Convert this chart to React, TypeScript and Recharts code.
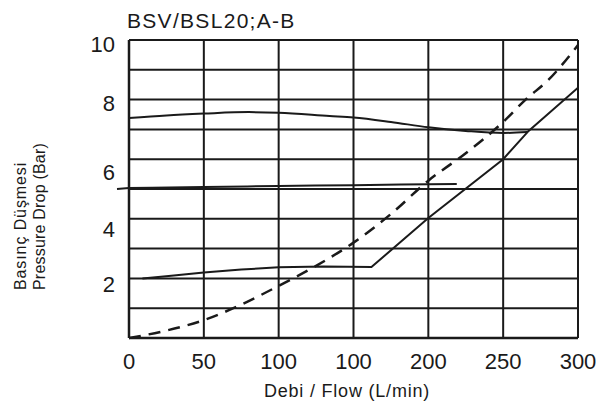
import { LineChart, Line, XAxis, YAxis, CartesianGrid, ReferenceLine } from 'recharts';

// flow (L/min) and pressure drop (bar)
const upperFlow = [0, 25, 50, 80, 100, 134, 150, 175, 200, 225, 250, 266];
const upperDrop = [7.38, 7.47, 7.53, 7.58, 7.56, 7.45, 7.4, 7.25, 7.07, 6.95, 6.88, 6.91];

const middleFlow = [0, 50, 100, 150, 219];
const middleDrop = [5.03, 5.07, 5.1, 5.13, 5.17];
const middleStub = [{ x: -8, y: 5.0 }, { x: 0, y: 5.03 }];

const lowerFlow = [9, 30, 50, 75, 100, 130, 162, 200, 250, 267, 300];
const lowerDrop = [2.0, 2.1, 2.2, 2.3, 2.37, 2.4, 2.38, 4.03, 6.0, 6.95, 8.4];

const dashedFlow = [0, 25, 50, 75, 100, 125, 150, 175, 200, 225, 250, 265, 280, 300];
const dashedDrop = [0, 0.25, 0.6, 1.12, 1.75, 2.42, 3.2, 4.16, 5.28, 6.2, 7.25, 8.0, 8.65, 9.83];

const xTicks = [0, 50, 100, 150, 200, 250, 300];
const xTickLabels = ['0', '50', '100', '100', '200', '250', '300'];
const yTicks = [0, 1, 2, 3, 4, 5, 6, 7, 8, 9, 10];
const yTickLabels = ['', '', '2', '', '4', '', '6', '', '8', '', '10'];

const zip = (xs: number[], ys: number[]) => xs.map((x, i) => ({ x, y: ys[i] }));

const upper = zip(upperFlow, upperDrop);
const middle = zip(middleFlow, middleDrop);
const lower = zip(lowerFlow, lowerDrop);
const dashed = zip(dashedFlow, dashedDrop);

const ink = '#1a1a1a';
const font = '"Liberation Sans", Arial, sans-serif';

// the printed labels sit a little below their grid lines
const yNudge: Record<number, number> = { 10: 4, 8: 4, 6: 13, 4: 10, 2: 6 };

function YTick(props: any) {
  const { x, y, payload } = props;
  const label = yTickLabels[yTicks.indexOf(payload.value)];
  if (!label) return null;
  return (
    <text x={x} y={y + (yNudge[payload.value] || 0)} dy="0.355em" textAnchor="end"
      fontSize={22} fontFamily={font} fill={ink}>
      {label}
    </text>
  );
}

function XTick(props: any) {
  const { x, y, payload } = props;
  return (
    <text x={x} y={y} dy="0.71em" textAnchor="middle" fontSize={22} fontFamily={font} fill={ink}>
      {xTickLabels[xTicks.indexOf(payload.value)]}
    </text>
  );
}

export default function App() {
  return (
    <div style={{ position: 'absolute', left: 0, top: 0, width: 607, height: 410, background: '#fff' }}>
      <LineChart width={607} height={410} data={dashed} margin={{ top: 40, right: 29, bottom: 0, left: 0 }}>
        <CartesianGrid stroke={ink} strokeWidth={2} />
        <XAxis
          dataKey="x"
          type="number"
          domain={[0, 300]}
          ticks={xTicks}
          height={72}
          tickSize={0}
          tickMargin={15}
          tick={<XTick />}
          axisLine={{ stroke: ink, strokeWidth: 2.5 }}
          tickLine={false}
          allowDataOverflow
        />
        <YAxis
          type="number"
          domain={[0, 10]}
          ticks={yTicks}
          width={129}
          tickSize={0}
          tickMargin={14}
          tick={<YTick />}
          axisLine={{ stroke: ink, strokeWidth: 2.5 }}
          tickLine={false}
          interval={0}
        />
        <ReferenceLine segment={middleStub} stroke={ink} strokeWidth={2} ifOverflow="visible" />
        <Line data={upper} dataKey="y" type="monotone" stroke={ink} strokeWidth={2} dot={false} activeDot={false} isAnimationActive={false} />
        <Line data={middle} dataKey="y" type="monotone" stroke={ink} strokeWidth={2} dot={false} activeDot={false} isAnimationActive={false} />
        <Line data={lower} dataKey="y" type="linear" stroke={ink} strokeWidth={2} dot={false} activeDot={false} isAnimationActive={false} />
        <Line data={dashed} dataKey="y" type="monotone" stroke={ink} strokeWidth={2.5} strokeDasharray="12 8" dot={false} activeDot={false} isAnimationActive={false} />
      </LineChart>
      <svg width={607} height={410} style={{ position: 'absolute', left: 0, top: 0, pointerEvents: 'none' }}>
        <text x={127} y={28} fontSize={21} letterSpacing={1.3} fontFamily={font} fill={ink}>
          BSV/BSL20;A-B
        </text>
        <text x={347} y={397} textAnchor="middle" fontSize={18} letterSpacing={0.8} fontFamily={font} fill={ink}>
          Debi / Flow (L/min)
        </text>
        <text transform="translate(26,290) rotate(-90)" fontSize={16} letterSpacing={0.9} fontFamily={font} fill={ink}>
          Basınç Düşmesi
        </text>
        <text transform="translate(45,290) rotate(-90)" fontSize={16} letterSpacing={0.2} fontFamily={font} fill={ink}>
          Pressure Drop (Bar)
        </text>
      </svg>
    </div>
  );
}
